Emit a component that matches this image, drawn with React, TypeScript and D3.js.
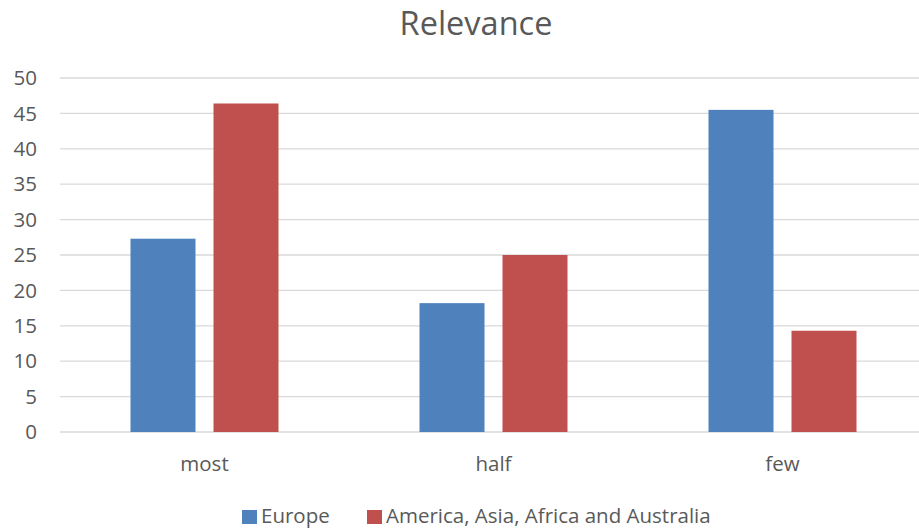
import {useEffect, useRef} from "react";
import * as d3 from 'd3'

const categories = ["most", "half", "few"]
const seriesNames = ["Europe", "America, Asia, Africa and Australia"]
const europe = [27.3, 18.2, 45.5]
const others = [46.4, 25.0, 14.3]
const yTicks = [0, 5, 10, 15, 20, 25, 30, 35, 40, 45, 50]
const colors = ["#4f81bd", "#c0504d"]

const W = 919
const H = 528
const FONT = "'Open Sans', 'Noto Sans', sans-serif"

const App = () => {
    const svgRef = useRef<SVGSVGElement>(null)

    useEffect(() => {
        const svg = d3.select(svgRef.current)
        svg.selectAll("*").remove()

        // plot runs past the right edge of the picture, like the original
        const left = 60, right = 927, top = 78, bottom = 432

        const y = d3.scaleLinear().domain([0, 50]).range([bottom, top])
        const x = d3.scaleBand().domain(categories).range([left, right]).paddingInner(0).paddingOuter(0)
        // two bars of ~65px with an 18px gap inside each band
        const barW = x.bandwidth() * 65 / 289
        const gap = x.bandwidth() * 18 / 289

        // title
        svg.append("text")
            .attr("x", 476).attr("y", 35)
            .attr("text-anchor", "middle")
            .attr("font-family", FONT).attr("font-size", 32.5)
            .attr("fill", "#595959")
            .text("Relevance")

        // gridlines
        svg.append("g").selectAll("line")
            .data(yTicks)
            .join("line")
            .attr("x1", left).attr("x2", W)
            .attr("y1", d => y(d)).attr("y2", d => y(d))
            .attr("stroke", "#d9d9d9").attr("stroke-width", 1.3)

        // y labels
        svg.append("g").selectAll("text")
            .data(yTicks)
            .join("text")
            .attr("x", 37).attr("y", d => y(d))
            .attr("dy", "0.35em")
            .attr("text-anchor", "end")
            .attr("font-family", FONT).attr("font-size", 20.5)
            .attr("fill", "#595959")
            .text(d => d)

        // bars
        const series = [europe, others]
        series.forEach((vals, si) => {
            svg.append("g").selectAll("rect")
                .data(vals)
                .join("rect")
                .attr("x", (d, i) => {
                    const c = x(categories[i])! + x.bandwidth() / 2
                    return si === 0 ? c - gap / 2 - barW : c + gap / 2
                })
                .attr("y", d => y(d))
                .attr("width", barW)
                .attr("height", d => bottom - y(d))
                .attr("fill", colors[si])
        })

        // x labels
        svg.append("g").selectAll("text")
            .data(categories)
            .join("text")
            .attr("x", d => x(d)! + x.bandwidth() / 2)
            .attr("y", 471)
            .attr("text-anchor", "middle")
            .attr("font-family", FONT).attr("font-size", 20.5)
            .attr("fill", "#595959")
            .text(d => d)

        // legend
        const legendX = [242, 367]
        seriesNames.forEach((name, i) => {
            svg.append("rect")
                .attr("x", legendX[i]).attr("y", 510)
                .attr("width", 15).attr("height", 14)
                .attr("fill", colors[i])
            svg.append("text")
                .attr("x", legendX[i] + 19).attr("y", 523)
                .attr("font-family", FONT).attr("font-size", 20.5)
                .attr("fill", "#595959")
                .text(name)
        })
    }, [])

    return (
        <svg ref={svgRef} width={W} height={H}
             style={{position: "absolute", top: 0, left: 0, background: "#fff"}}/>
    )
}

export default App
